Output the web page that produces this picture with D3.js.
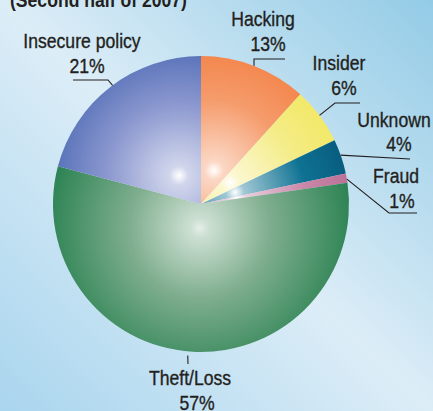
<!DOCTYPE html>
<html>
<head>
<meta charset="utf-8">
<script src="https://cdn.jsdelivr.net/npm/d3@7"></script>
<style>
  html, body { margin: 0; padding: 0; }
  svg { display: block; }
  text { font-family: "Liberation Sans", Arial, sans-serif; fill: #231f20; }
</style>
</head>
<body>
<div id="chart"></div>
<script>
// slices, clockwise from 12 o'clock
var categories = ["Hacking", "Insider", "Unknown", "Fraud", "Theft/Loss", "Insecure policy"];
// slice sizes as drawn (percent of the circle)
var shares = [11.7, 6.2, 3.8, 1.0, 56.4, 20.9];
// printed labels
var pctLabels = ["13%", "6%", "4%", "1%", "57%", "21%"];
var titleText = "(Second half of 2007)";

// colours: [edge, middle]
var colours = [
    ["#f27433", "#f59c6c"],
    ["#f0e44a", "#f4ec86"],
    ["#00486a", "#0f7293"],
    ["#b05c88", "#c986a8"],
    ["#2b8253", "#7fae8e"],
    ["#3a5cab", "#8d99d0"]
];

var width = 433, height = 411;
var cx = 201, cy = 204, radius = 148;

// label layout: text centre, baselines, leader point on the circle (deg) and leader path after it
var labelLayout = [
    {x: 263, x2: 268, y: 26, y2: 51, deg: 21, path: [[254, 59], [285, 59]]},
    {x: 339, x2: 344, y: 70, y2: 95, deg: 53.2, path: [[335, 103], [360, 103]]},
    {x: 394, x2: 399, y: 127, y2: 151, deg: 70.7, path: [[410, 159]]},
    {x: 396, x2: 402, y: 183, y2: 208, deg: 80.3, path: [[389, 213], [417, 213]]},
    {x: 190, x2: 197, y: 385, y2: 410, deg: 185, r0: 152, path: [[188, 364]]},
    {x: 82, x2: 87, y: 48, y2: 73, deg: 323.3, path: [[108, 80], [73, 80]]}
];

var svg = d3.select("#chart").append("svg")
    .attr("width", width)
    .attr("height", height);

var defs = svg.append("defs");

// background
var bg = defs.append("linearGradient")
    .attr("id", "bg")
    .attr("x1", 0).attr("y1", 1).attr("x2", 1).attr("y2", 0);
bg.append("stop").attr("offset", "0%").attr("stop-color", "#a9d5ee");
bg.append("stop").attr("offset", "50%").attr("stop-color", "#dcedf7");
bg.append("stop").attr("offset", "100%").attr("stop-color", "#93cbe6");

svg.append("rect")
    .attr("width", width)
    .attr("height", height)
    .attr("fill", "url(#bg)");

var pie = d3.pie().sort(null).value(function(d) { return d; });
var arcs = pie(shares);

var arc = d3.arc().innerRadius(0).outerRadius(radius);

var g = svg.append("g")
    .attr("transform", "translate(" + cx + "," + cy + ")");

// one radial gradient per slice, the bright spot sits inside the slice near the middle
arcs.forEach(function(a, i) {
    var mid = (a.startAngle + a.endAngle) / 2;
    var hr = i == 4 ? 24 : 36;
    var hx = Math.sin(mid) * hr, hy = -Math.cos(mid) * hr;
    var grad = defs.append("radialGradient")
        .attr("id", "slice" + i)
        .attr("gradientUnits", "userSpaceOnUse")
        .attr("cx", hx).attr("cy", hy)
        .attr("fx", hx).attr("fy", hy)
        .attr("r", radius * 1.05);
    var white = i == 4 ? d3.interpolateRgb("#ffffff", colours[i][1])(0.2) : "#ffffff";
    grad.append("stop").attr("offset", "0%").attr("stop-color", white);
    grad.append("stop").attr("offset", "6%").attr("stop-color", d3.interpolateRgb("#ffffff", colours[i][1])(0.4));
    grad.append("stop").attr("offset", "45%").attr("stop-color", colours[i][1]);
    grad.append("stop").attr("offset", "100%").attr("stop-color", colours[i][0]);
});

g.selectAll("path.slice")
    .data(arcs)
    .enter().append("path")
    .attr("class", "slice")
    .attr("d", arc)
    .attr("fill", function(d, i) { return "url(#slice" + i + ")"; });

// leader lines
var line = d3.line();
labelLayout.forEach(function(l, i) {
    var t = l.deg * Math.PI / 180;
    var r0 = l.r0 || radius;
    var start = [cx + Math.sin(t) * r0, cy - Math.cos(t) * r0];
    svg.append("path")
        .attr("d", line([start].concat(l.path)))
        .attr("fill", "none")
        .attr("stroke", "#231f20")
        .attr("stroke-width", 1.1);
});

// labels, squeezed sideways to look like a condensed face
function label(x, y, s, bold) {
    svg.append("text")
        .attr("transform", "translate(" + x + "," + y + ") scale(0.88,1)")
        .attr("text-anchor", bold ? "start" : "middle")
        .style("font-size", "20px")
        .style("font-weight", bold ? "bold" : "normal")
        .style("stroke", "#231f20")
        .style("stroke-width", bold ? 0 : 0.35)
        .text(s);
}

categories.forEach(function(c, i) {
    var l = labelLayout[i];
    label(l.x, l.y, c);
    label(l.x2, l.y2, pctLabels[i]);
});

// title, mostly cropped at the top
label(10, 7, titleText, true);
</script>
</body>
</html>
